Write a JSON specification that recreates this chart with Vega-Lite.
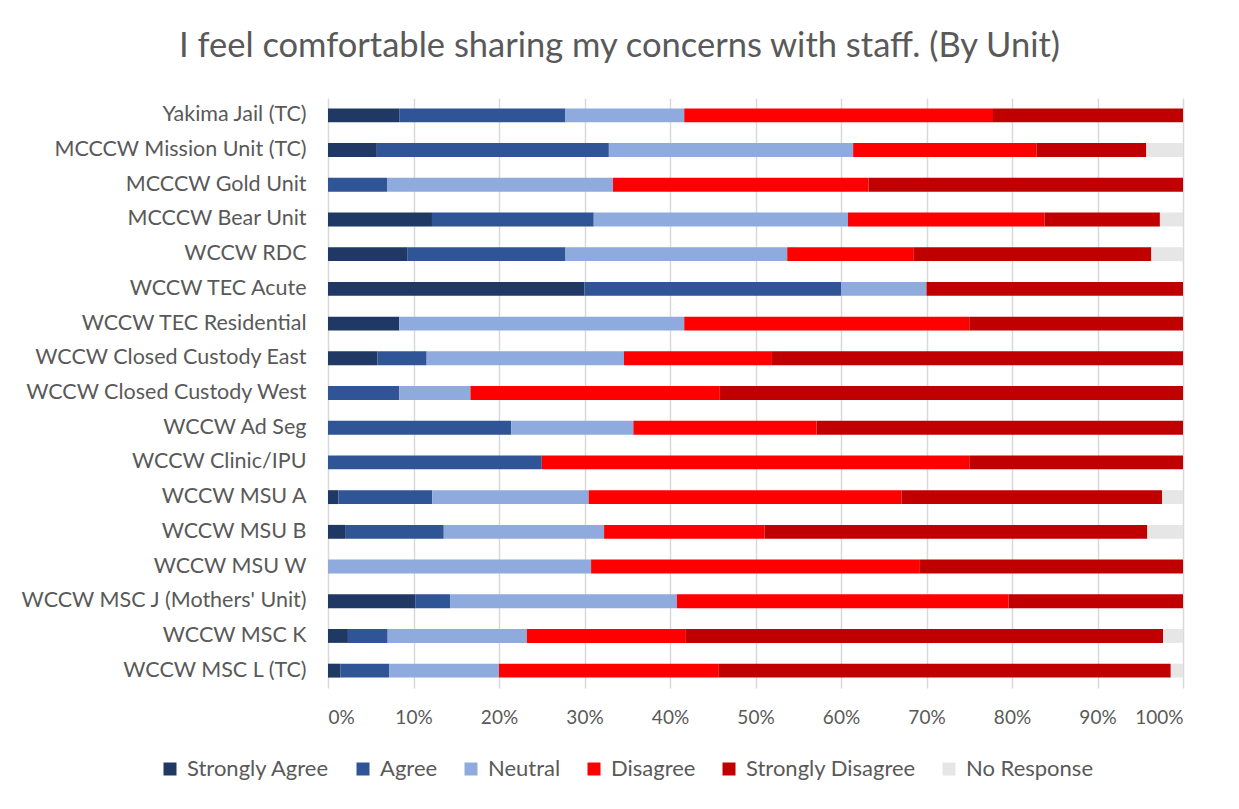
{
  "$schema": "https://vega.github.io/schema/vega-lite/v6.json",
  "width": 855,
  "height": 590,
  "autosize": {"type": "none"},
  "padding": {"left": 328, "top": 98, "right": 56, "bottom": 121},
  "background": "white",
  "config": {
    "font": "Lato",
    "view": {"stroke": null},
    "axis": {"labelFont": "Lato", "labelColor": "#595959", "labelFontSize": 18}
  },
  "title": {
    "text": "I feel comfortable sharing my concerns with staff. (By Unit)",
    "fontSize": 34.5,
    "fontWeight": "normal",
    "color": "#595959",
    "font": "Lato",
    "anchor": "middle",
    "dx": -136,
    "offset": 34
  },
  "data": {
    "values": [
      {"unit": "Yakima Jail (TC)", "Strongly Agree": 8.33, "Agree": 19.44, "Neutral": 13.89, "Disagree": 36.11, "Strongly Disagree": 22.22, "No Response": 0},
      {"unit": "MCCCW Mission Unit (TC)", "Strongly Agree": 5.71, "Agree": 27.14, "Neutral": 28.57, "Disagree": 21.43, "Strongly Disagree": 12.86, "No Response": 4.29},
      {"unit": "MCCCW Gold Unit", "Strongly Agree": 0, "Agree": 6.9, "Neutral": 26.44, "Disagree": 29.89, "Strongly Disagree": 36.78, "No Response": 0},
      {"unit": "MCCCW Bear Unit", "Strongly Agree": 12.16, "Agree": 18.92, "Neutral": 29.73, "Disagree": 22.97, "Strongly Disagree": 13.51, "No Response": 2.7},
      {"unit": "WCCW RDC", "Strongly Agree": 9.26, "Agree": 18.52, "Neutral": 25.93, "Disagree": 14.81, "Strongly Disagree": 27.78, "No Response": 3.7},
      {"unit": "WCCW TEC Acute", "Strongly Agree": 30, "Agree": 30, "Neutral": 10, "Disagree": 0, "Strongly Disagree": 30, "No Response": 0},
      {"unit": "WCCW TEC Residential", "Strongly Agree": 8.33, "Agree": 0, "Neutral": 33.33, "Disagree": 33.33, "Strongly Disagree": 25, "No Response": 0},
      {"unit": "WCCW Closed Custody East", "Strongly Agree": 5.77, "Agree": 5.77, "Neutral": 23.08, "Disagree": 17.31, "Strongly Disagree": 48.08, "No Response": 0},
      {"unit": "WCCW Closed Custody West", "Strongly Agree": 0, "Agree": 8.33, "Neutral": 8.33, "Disagree": 29.17, "Strongly Disagree": 54.17, "No Response": 0},
      {"unit": "WCCW Ad Seg", "Strongly Agree": 0, "Agree": 21.43, "Neutral": 14.29, "Disagree": 21.43, "Strongly Disagree": 42.86, "No Response": 0},
      {"unit": "WCCW Clinic/IPU", "Strongly Agree": 0, "Agree": 25, "Neutral": 0, "Disagree": 50, "Strongly Disagree": 25, "No Response": 0},
      {"unit": "WCCW MSU A", "Strongly Agree": 1.22, "Agree": 10.98, "Neutral": 18.29, "Disagree": 36.59, "Strongly Disagree": 30.49, "No Response": 2.44},
      {"unit": "WCCW MSU B", "Strongly Agree": 2.08, "Agree": 11.46, "Neutral": 18.75, "Disagree": 18.75, "Strongly Disagree": 44.79, "No Response": 4.17},
      {"unit": "WCCW MSU W", "Strongly Agree": 0, "Agree": 0, "Neutral": 30.77, "Disagree": 38.46, "Strongly Disagree": 30.77, "No Response": 0},
      {"unit": "WCCW MSC J (Mothers' Unit)", "Strongly Agree": 10.2, "Agree": 4.08, "Neutral": 26.53, "Disagree": 38.78, "Strongly Disagree": 20.41, "No Response": 0},
      {"unit": "WCCW MSC K", "Strongly Agree": 2.33, "Agree": 4.65, "Neutral": 16.28, "Disagree": 18.6, "Strongly Disagree": 55.81, "No Response": 2.33},
      {"unit": "WCCW MSC L (TC)", "Strongly Agree": 1.43, "Agree": 5.71, "Neutral": 12.86, "Disagree": 25.71, "Strongly Disagree": 52.86, "No Response": 1.43}
    ]
  },
  "transform": [
    {"fold": ["Strongly Agree", "Agree", "Neutral", "Disagree", "Strongly Disagree", "No Response"], "as": ["response", "value"]},
    {"calculate": "indexof(['Strongly Agree','Agree','Neutral','Disagree','Strongly Disagree','No Response'], datum.response)", "as": "rank"}
  ],
  "mark": {"type": "bar"},
  "encoding": {
    "y": {
      "field": "unit",
      "type": "nominal",
      "sort": null,
      "title": null,
      "scale": {"paddingInner": 0.6, "paddingOuter": 0.3},
      "axis": {"ticks": false, "domain": false, "labelPadding": 22, "grid": false, "labelLimit": 0, "labelFontSize": 21.5}
    },
    "x": {
      "field": "value",
      "type": "quantitative",
      "stack": "normalize",
      "title": null,
      "scale": {"domain": [0, 1], "nice": false},
      "axis": {
        "values": [0, 0.1, 0.2, 0.3, 0.4, 0.5, 0.6, 0.7, 0.8, 0.9, 1],
        "format": ".0%",
        "ticks": false,
        "domain": false,
        "grid": true,
        "gridColor": "#d9d9d9",
        "gridWidth": 1.5,
        "labelPadding": 20,
        "labelFontSize": 19
      }
    },
    "color": {
      "field": "response",
      "type": "nominal",
      "sort": ["Strongly Agree", "Agree", "Neutral", "Disagree", "Strongly Disagree", "No Response"],
      "scale": {
        "domain": ["Strongly Agree", "Agree", "Neutral", "Disagree", "Strongly Disagree", "No Response"],
        "range": ["#203864", "#2F5597", "#8FAADC", "#FF0000", "#C00000", "#E7E6E6"]
      },
      "legend": {
        "title": null,
        "orient": "none",
        "direction": "horizontal",
        "legendX": -169,
        "legendY": 660,
        "symbolType": "square",
        "symbolSize": 169,
        "symbolStrokeWidth": 0,
        "labelFontSize": 22,
        "labelLimit": 0,
        "labelColor": "#595959",
        "labelFont": "Lato",
        "labelOffset": 6,
        "columnPadding": 22,
        "columns": 6
      }
    },
    "order": {"field": "rank", "type": "quantitative"}
  }
}
